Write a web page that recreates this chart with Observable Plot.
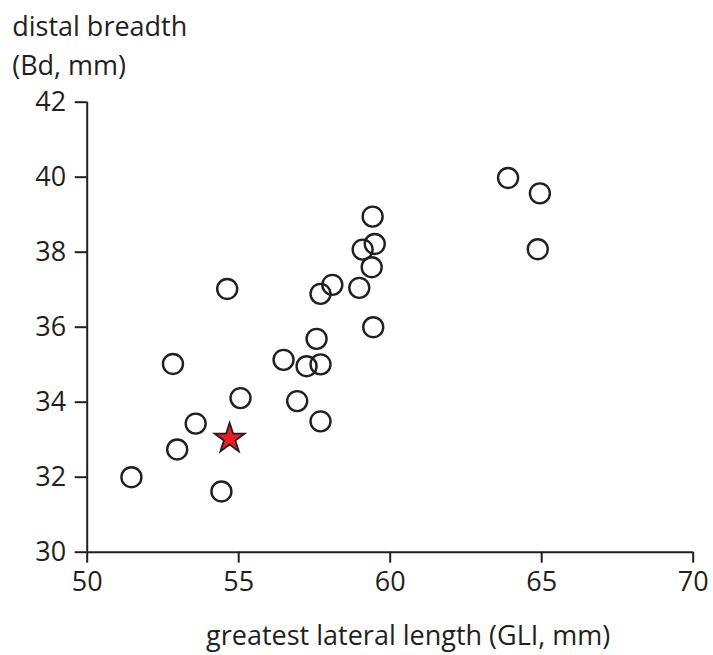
<!DOCTYPE html>
<html>
<head>
<meta charset="utf-8">
<script src="https://cdn.jsdelivr.net/npm/d3@7"></script>
<script src="https://cdn.jsdelivr.net/npm/@observablehq/plot@0.6"></script>
<style>
  html, body { margin: 0; padding: 0; background: #fff; }
</style>
</head>
<body>
<div id="chart"></div>
<script>
// Greatest lateral length (GLl, mm) of each specimen
const gll = [51.46, 52.97, 53.58, 52.83, 54.43, 54.62, 55.06, 56.48, 56.93, 57.24,
             57.70, 57.57, 57.70, 57.70, 58.09, 58.98, 59.09, 59.42, 59.49, 59.39,
             59.44, 63.89, 64.94, 64.87];
// Distal breadth (Bd, mm) of each specimen
const bd  = [32.00, 32.74, 33.43, 35.02, 31.62, 37.02, 34.11, 35.13, 34.03, 34.96,
             35.01, 35.69, 33.49, 36.89, 37.13, 37.05, 38.07, 38.95, 38.22, 37.60,
             36.00, 39.98, 39.57, 38.08];
// Highlighted specimen (star)
const starGll = [54.70];
const starBd  = [33.03];
// Tick labels
const xTicks = [50, 55, 60, 65, 70];
const yTicks = [30, 32, 34, 36, 38, 40, 42];

const ink = "#231f20";
const font = "'Open Sans', sans-serif";

const points = gll.map((v, i) => ({x: v, y: bd[i]}));
const star = starGll.map((v, i) => ({x: v, y: starBd[i]}));

const chart = Plot.plot({
  width: 713,
  height: 655,
  marginLeft: 86.7,
  marginRight: 20.3,
  marginTop: 101.7,
  marginBottom: 103.3,
  style: {fontFamily: font, fontSize: "27px", color: ink, background: "#fff", overflow: "visible"},
  x: {domain: [50, 70], axis: null},
  y: {domain: [30, 42], axis: null},
  marks: [
    Plot.axisX(xTicks, {tickSize: 11, tickPadding: 9, fontSize: 27, strokeWidth: 2, stroke: ink, fill: ink, label: null, fontFamily: font}),
    Plot.axisY(yTicks, {tickSize: 12, tickPadding: 9, fontSize: 27, strokeWidth: 2, stroke: ink, fill: ink, label: null, fontFamily: font}),
    Plot.ruleX([50], {y1: 30, y2: 42, stroke: ink, strokeWidth: 2}),
    Plot.ruleY([30], {x1: 50, x2: 70, stroke: ink, strokeWidth: 2}),
    Plot.dot(points, {x: "x", y: "y", r: 10, fill: "none", stroke: ink, strokeWidth: 2.4}),
    Plot.dot(star, {x: "x", y: "y", symbol: "star", r: 9.4, fill: "#ed1c24", stroke: ink, strokeWidth: 1.8}),
    Plot.text(["distal breadth\n(Bd, mm)"], {frameAnchor: "top-left", textAnchor: "start", lineAnchor: "top", lineHeight: 1.44, dx: -75, dy: -94, fontSize: 27, fill: ink, fontFamily: font}),
    Plot.text(["greatest lateral length (GLI, mm)"], {frameAnchor: "bottom", textAnchor: "middle", lineAnchor: "top", dx: 18, dy: 74, fontSize: 27, fill: ink, fontFamily: font})
  ]
});
document.getElementById("chart").appendChild(chart);
</script>
</body>
</html>
